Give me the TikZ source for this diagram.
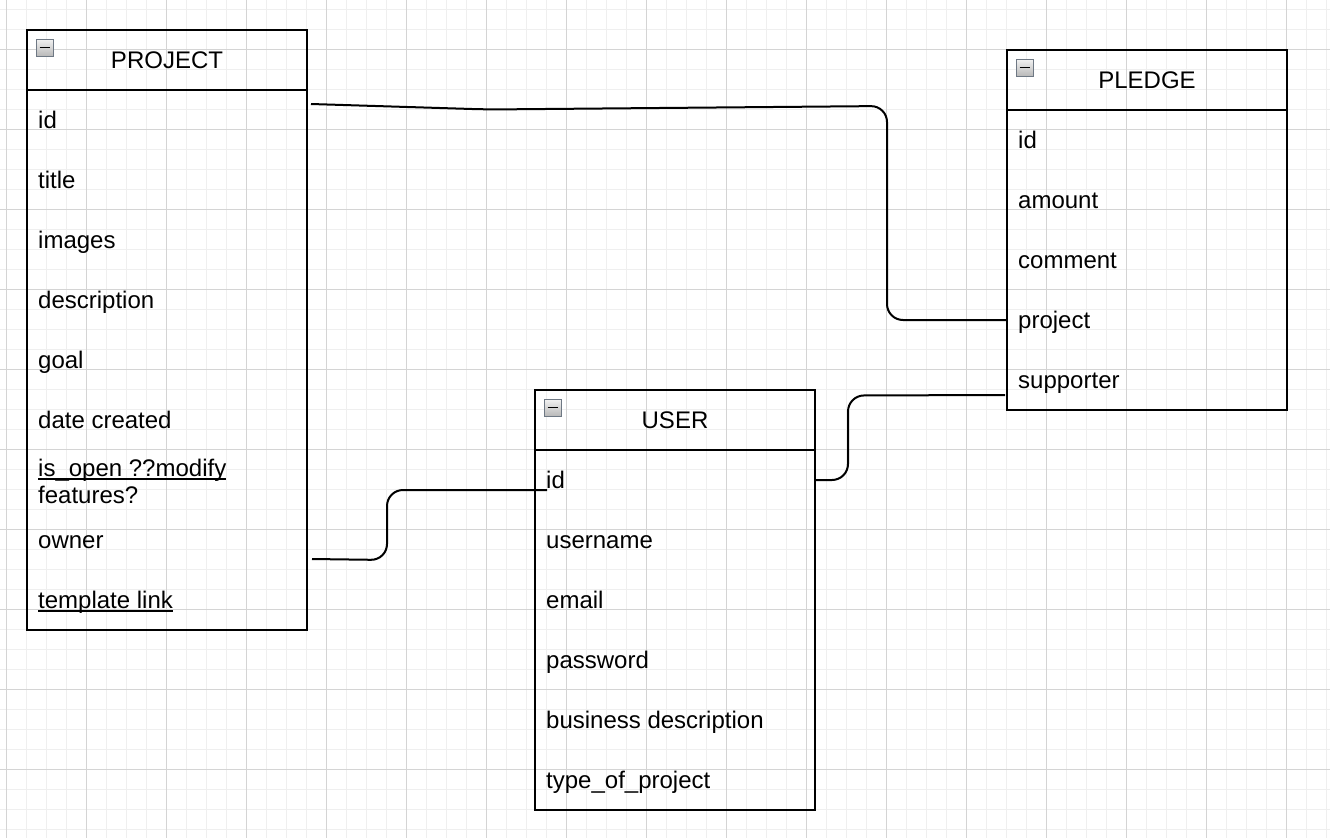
\documentclass[tikz,border=0pt]{standalone}
\usepackage{fontspec}
\setmainfont{Liberation Sans}
\usetikzlibrary{calc}
\definecolor{gridminor}{HTML}{EFEFEF}
\definecolor{gridmajor}{HTML}{D4D4D4}
\definecolor{iconborder}{HTML}{6E7884}
\newlength\ulwd
\newcommand\myul[1]{\settowidth\ulwd{#1}\rlap{\rule[-4pt]{\ulwd}{1.6pt}}#1}
\tikzset{
 ebox/.style={draw=black, line width=2pt, minimum width=280pt, inner sep=0pt, outer sep=0pt, anchor=north west, rectangle},
 erowbox/.style={minimum width=280pt, minimum height=60pt, inner sep=0pt, outer sep=0pt, anchor=north west},
 etext/.style={anchor=base west, inner sep=0pt, font=\fontsize{24}{28}\selectfont},
 etitle/.style={anchor=base, inner sep=0pt, font=\fontsize{24}{28}\selectfont},
 conn/.style={draw=black, line width=2pt, rounded corners=16pt},
 iconbox/.style={draw=iconborder, line width=1pt, top color=gray!10, bottom color=gray!55},
}
\newcommand\entity[5]{%
 \node[ebox, minimum height=#5pt] (#1) at (#2,#3) {};
 \draw[line width=2pt] ([yshift=-60pt]#1.north west) -- ([yshift=-60pt]#1.north east);
 \node[etitle] (#1-title) at ([yshift=-38pt]#1.north) {#4};
 \draw[iconbox] ([xshift=9pt,yshift=-9pt]#1.north west) rectangle ++(17,17);
 \draw[line width=1.8pt] ([xshift=12.5pt,yshift=-17.5pt]#1.north west) -- ++(10,0);
}
\newcommand\erow[4]{%
 \node[erowbox] (#1-#3) at ([yshift={-60pt*#2}]#1.north west) {};
 \node[etext] (#1-#3-txt) at ([xshift=11pt,yshift=-8pt]#1-#3.west) {#4};
}
\begin{document}
\begin{tikzpicture}[x=1pt,y=-1pt]
\useasboundingbox (0,0) rectangle (1330,838);
\fill[white] (0,0) rectangle (1330,838);
% grid
\foreach \x in {6.7,26.7,...,1330} \draw[gridminor, line width=1pt] (\x,0) -- (\x,838);
\foreach \y in {9.3,29.3,...,838} \draw[gridminor, line width=1pt] (0,\y) -- (1330,\y);
\foreach \x in {6.7,86.7,...,1330} \draw[gridmajor, line width=1pt] (\x,0) -- (\x,838);
\foreach \y in {49.3,129.3,...,838} \draw[gridmajor, line width=1pt] (0,\y) -- (1330,\y);

% entities
\entity{proj}{27}{30}{PROJECT}{600}
\erow{proj}{1}{id}{id}
\erow{proj}{2}{title}{title}
\erow{proj}{3}{images}{images}
\erow{proj}{4}{description}{description}
\erow{proj}{5}{goal}{goal}
\erow{proj}{6}{date}{date created}
\erow{proj}{7}{isopen}{\raisebox{12pt}{\vtop{\baselineskip=27.5pt\hbox{\myul{is\_open ??modify}}\hbox{features?}}}}
\erow{proj}{8}{owner}{owner}
\erow{proj}{9}{template}{\myul{template link}}

\entity{pl}{1007}{50}{PLEDGE}{360}
\erow{pl}{1}{id}{id}
\erow{pl}{2}{amount}{amount}
\erow{pl}{3}{comment}{comment}
\erow{pl}{4}{project}{project}
\erow{pl}{5}{supporter}{supporter}

\entity{user}{535}{390}{USER}{420}
\erow{user}{1}{id}{id}
\erow{user}{2}{username}{username}
\erow{user}{3}{email}{email}
\erow{user}{4}{password}{password}
\erow{user}{5}{business}{business description}
\erow{user}{6}{type}{type\_of\_project}

% connectors
\draw[conn] ([xshift=4pt,yshift=16pt]proj-id.east) -- (488,109.5) -- (887,106) -- (887,320) -- (pl-project.west);
\draw[conn] ([xshift=5pt,yshift=-19pt]proj-owner.east) -- (387,560) -- (387,490) -- ([xshift=12pt,yshift=-10pt]user-id.west);
\draw[conn] (user-id.east) -- (848,480) -- (848,395.5) -- ([xshift=-2pt,yshift=-15pt]pl-supporter.west);
\end{tikzpicture}
\end{document}
